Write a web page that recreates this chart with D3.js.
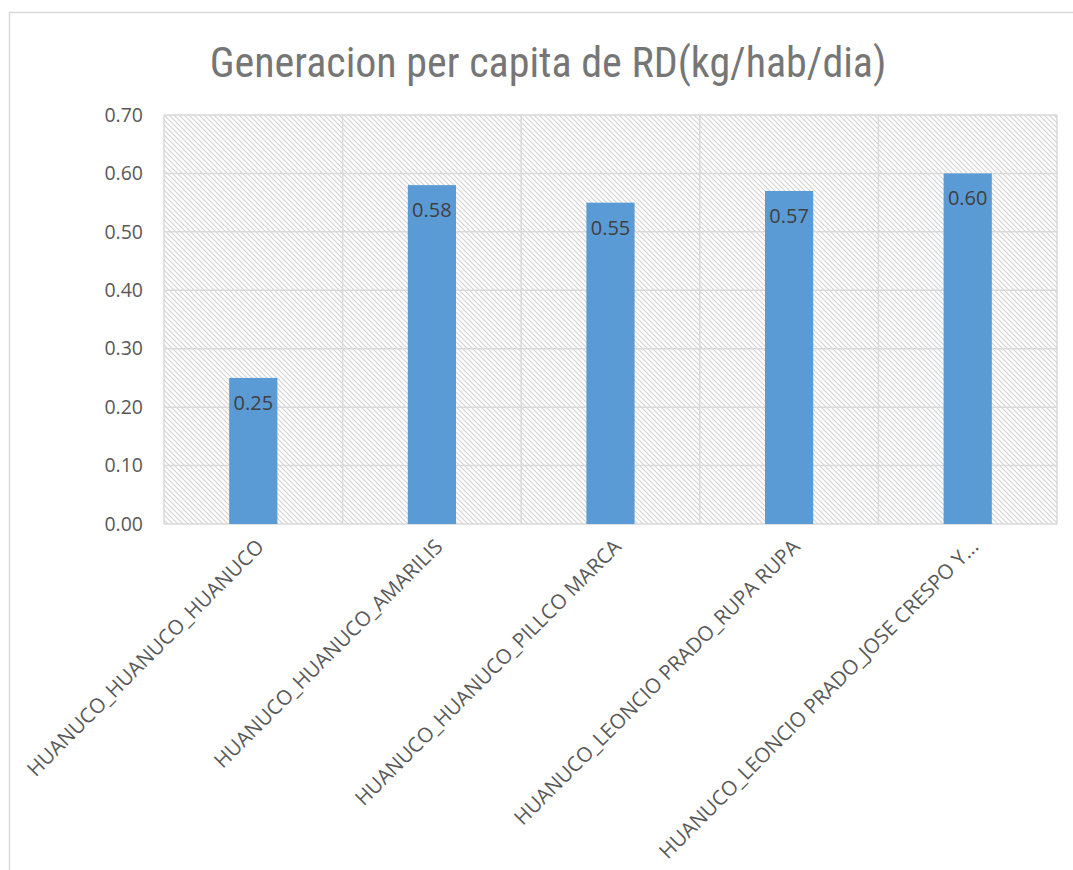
<!DOCTYPE html>
<html>
<head>
<meta charset="utf-8">
<script src="https://cdn.jsdelivr.net/npm/d3@7"></script>
<style>
body { margin: 0; background: #fff; }
text { font-family: "Open Sans", "Noto Sans", sans-serif; }
</style>
</head>
<body>
<svg id="chart" width="1073" height="870"></svg>
<script>
const categories = ["HUANUCO_HUANUCO_HUANUCO", "HUANUCO_HUANUCO_AMARILIS", "HUANUCO_HUANUCO_PILLCO MARCA", "HUANUCO_LEONCIO PRADO_RUPA RUPA", "HUANUCO_LEONCIO PRADO_JOSE CRESPO Y..."];
const values = [0.25, 0.58, 0.55, 0.57, 0.60];
const yTicks = [0, 0.1, 0.2, 0.3, 0.4, 0.5, 0.6, 0.7];
const title = "Generacion per capita de RD(kg/hab/dia)";

const margin = {top:115, right:16, bottom:346, left:164},
width = 1073 - margin.left - margin.right,
height = 870 - margin.top - margin.bottom;
const svg = d3.select("#chart");

// outer chart border (cut off at right and bottom)
svg.append("rect").attr("x", 9.5).attr("y", 12.5).attr("width", 1100).attr("height", 900)
    .attr("fill", "#fff").attr("stroke", "#d9d9d9").attr("stroke-width", 1.5);

const defs = svg.append("defs");
const pat = defs.append("pattern").attr("id", "hatch").attr("patternUnits", "userSpaceOnUse")
    .attr("width", 5).attr("height", 5);
pat.append("rect").attr("width", 5).attr("height", 5).attr("fill", "#fff");
pat.append("path").attr("d", "M-1,-1 L6,6 M-1,4 L1,6 M4,-1 L6,1").attr("stroke", "#d2d2d2").attr("stroke-width", 1.1);

svg.append("text").attr("x", 548).attr("y", 77).attr("text-anchor", "middle")
    .style("font-family", "'Liberation Sans Narrow', 'Roboto Condensed', 'Open Sans', sans-serif")
    .style("font-size", "42px").attr("fill", "#767676").text(title);

const g = svg.append("g").attr("transform", `translate(${margin.left},${margin.top})`);
const x = d3.scaleBand().domain(categories).range([0, width]).padding(0);
const y = d3.scaleLinear().domain([0, 0.7]).range([height, 0]);

g.append("rect").attr("width", width).attr("height", height).attr("fill", "url(#hatch)");

// gridlines
g.selectAll(".hgrid").data(yTicks).enter().append("line").attr("class", "hgrid")
    .attr("x1", 0).attr("x2", width).attr("y1", d => y(d)).attr("y2", d => y(d))
    .attr("stroke", "#d9d9d9").attr("stroke-width", 1.5);
g.selectAll(".vgrid").data(d3.range(categories.length + 1)).enter().append("line").attr("class", "vgrid")
    .attr("x1", d => d * x.step()).attr("x2", d => d * x.step()).attr("y1", 0).attr("y2", height)
    .attr("stroke", "#d9d9d9").attr("stroke-width", 1.5);

const barW = x.bandwidth() * 0.27;
g.selectAll(".bar").data(values).enter().append("rect").attr("class", "bar")
    .attr("x", (d, i) => x(categories[i]) + x.bandwidth() / 2 - barW / 2)
    .attr("y", d => y(d)).attr("width", barW).attr("height", d => height - y(d))
    .attr("fill", "#5b9bd5");

g.selectAll(".lbl").data(values).enter().append("text").attr("class", "lbl")
    .attr("x", (d, i) => x(categories[i]) + x.bandwidth() / 2).attr("y", d => y(d) + 32)
    .attr("text-anchor", "middle").style("font-size", "20px").attr("fill", "#404040")
    .text(d => d3.format(".2f")(d));

// y axis labels
const yAxis = g.append("g").call(d3.axisLeft(y).tickValues(yTicks).tickFormat(d3.format(".2f")).tickSize(0).tickPadding(21));
yAxis.select(".domain").remove();
yAxis.selectAll("text").style("font-size", "19.5px").attr("fill", "#595959").style("font-family", "'Open Sans', sans-serif");

// x axis labels
const xAxis = g.append("g").attr("transform", `translate(0,${height})`).call(d3.axisBottom(x).tickSize(0));
xAxis.select(".domain").remove();
xAxis.selectAll("text").style("font-size", "20.5px").attr("fill", "#595959").style("font-family", "'Open Sans', sans-serif")
    .attr("text-anchor", "end").attr("dy", 0).attr("y", 0)
    .attr("transform", "translate(12,24) rotate(-45)");
</script>
</body>
</html>
